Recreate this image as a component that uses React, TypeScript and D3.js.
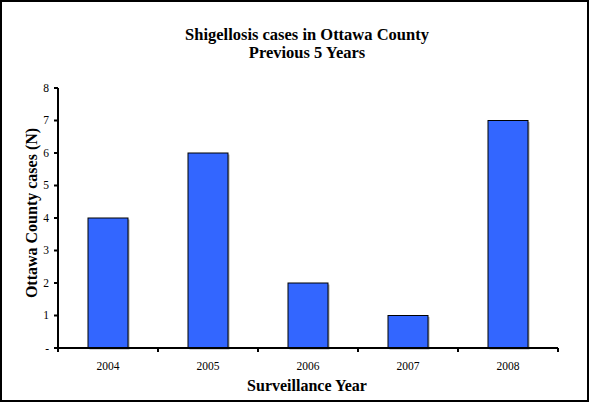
import React from "react";
import * as d3 from "d3";

const years = ["2004", "2005", "2006", "2007", "2008"];
const cases = [4, 6, 2, 1, 7];
const yTicks = [0, 1, 2, 3, 4, 5, 6, 7, 8];

const W = 589;
const H = 402;
const m = { left: 58, right: 31, top: 88, bottom: 54 };

export default function App() {
  const x = d3
    .scaleBand<string>()
    .domain(years)
    .range([m.left, W - m.right])
    .paddingInner(0.6)
    .paddingOuter(0.3);
  const y = d3.scaleLinear().domain([0, 8]).range([H - m.bottom, m.top]);
  const step = x.step();
  const x0 = m.left;
  const boundaries = d3.range(years.length + 1).map((i) => x0 + i * step);
  const font = "'Liberation Serif', 'Times New Roman', serif";

  return (
    <svg
      width={W}
      height={H}
      style={{ position: "absolute", left: 0, top: 0, background: "#fff" }}
      fontFamily={font}
    >
      <rect x={1} y={1} width={W - 2} height={H - 2} fill="#fff" stroke="#000" strokeWidth={2} />
      <text x={307} y={40} textAnchor="middle" fontSize={16.5} fontWeight="bold">
        Shigellosis cases in Ottawa County
      </text>
      <text x={307} y={58} textAnchor="middle" fontSize={16.5} fontWeight="bold">
        Previous 5 Years
      </text>
      {years.map((yr, i) => (
        <g key={yr}>
          <rect
            x={(x(yr) as number) + 1.5}
            y={y(cases[i]) + 1.5}
            width={x.bandwidth()}
            height={y(0) - y(cases[i])}
            fill="#aaa"
          />
          <rect
            x={x(yr)}
            y={y(cases[i])}
            width={x.bandwidth()}
            height={y(0) - y(cases[i])}
            fill="#3366ff"
            stroke="#000"
            strokeWidth={1}
          />
        </g>
      ))}
      {/* y axis */}
      <line x1={m.left} x2={m.left} y1={y(8)} y2={y(0) + 1} stroke="#000" strokeWidth={2} />
      {yTicks.map((t) => (
        <g key={t}>
          <line x1={m.left - 4} x2={m.left} y1={y(t)} y2={y(t)} stroke="#000" strokeWidth={2} />
          <text x={m.left - 9} y={y(t)} dy="0.33em" textAnchor="end" fontSize={11.5}>
            {t === 0 ? "-" : t}
          </text>
        </g>
      ))}
      {/* x axis */}
      <line x1={m.left - 1} x2={boundaries[boundaries.length - 1]} y1={y(0)} y2={y(0)} stroke="#000" strokeWidth={2} />
      {boundaries.map((b, i) => (
        <line key={i} x1={b} x2={b} y1={y(0)} y2={y(0) + 4} stroke="#000" strokeWidth={2} />
      ))}
      {years.map((yr) => (
        <text key={yr} x={(x(yr) as number) + x.bandwidth() / 2} y={370} textAnchor="middle" fontSize={11.5}>
          {yr}
        </text>
      ))}
      <text x={307} y={391} textAnchor="middle" fontSize={16} fontWeight="bold">
        Surveillance Year
      </text>
      <text
        transform={`translate(37, ${y(4) - 5}) rotate(-90)`}
        textAnchor="middle"
        fontSize={16}
        fontWeight="bold"
      >
        Ottawa County cases (N)
      </text>
    </svg>
  );
}
